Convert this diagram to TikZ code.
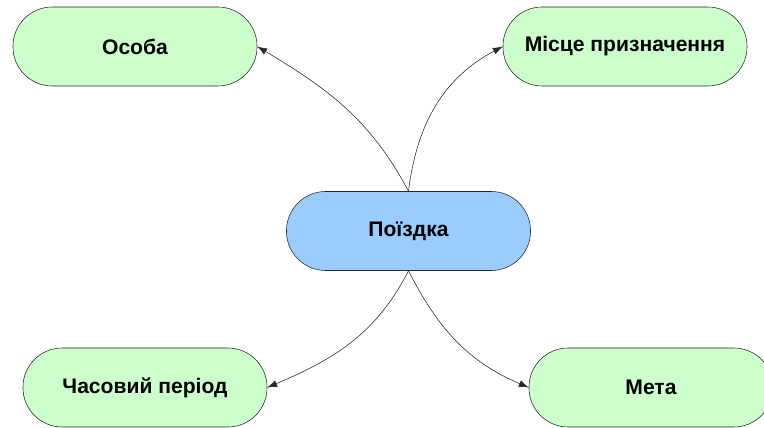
\documentclass[tikz,border=0pt]{standalone}
\usepackage{fontspec}
\setmainfont{Liberation Sans}
\usepackage{xcolor}
\usepackage{tikz}
\usetikzlibrary{arrows.meta,positioning}
\definecolor{topicgreen}{RGB}{204,255,204}
\definecolor{tripblue}{RGB}{153,204,255}
\definecolor{edgegray}{RGB}{40,40,40}

\begin{document}
\begin{tikzpicture}[x=0.025cm, y=0.025cm,
  font=\fontsize{15}{18}\selectfont\bfseries,
  pill/.style={draw=edgegray, thin, rounded corners=0.98cm,
    minimum width=6.1cm, minimum height=1.975cm, fill=topicgreen},
  conn/.style={-{Latex[length=7pt,width=5pt]}, draw=edgegray, thin}]
  \useasboundingbox (0,0) rectangle (764,428);
  % ---- centre ----
  \node[pill, fill=tripblue] (trip) at (408.5,197) {Поїздка};
  % ---- topics ----
  \node[pill] (person) at (135,381.5) {Особа};
  \node[pill] (dest) at (625,381.5) {Місце призначення};
  \node[pill] (period) at (145,40.5) {Часовий період};
  \node[pill] (goal) at (651,40.5) {Мета};
  % ---- links ----
  \draw[conn] (trip.north) to[out=118, in=-31] (person.east);
  \draw[conn] (trip.north) to[out=83, in=208] (dest.west);
  \draw[conn] (trip.south) to[out=-117, in=23] (period.east);
  \draw[conn] (trip.south) to[out=-63, in=157] (goal.west);
\end{tikzpicture}
\end{document}
